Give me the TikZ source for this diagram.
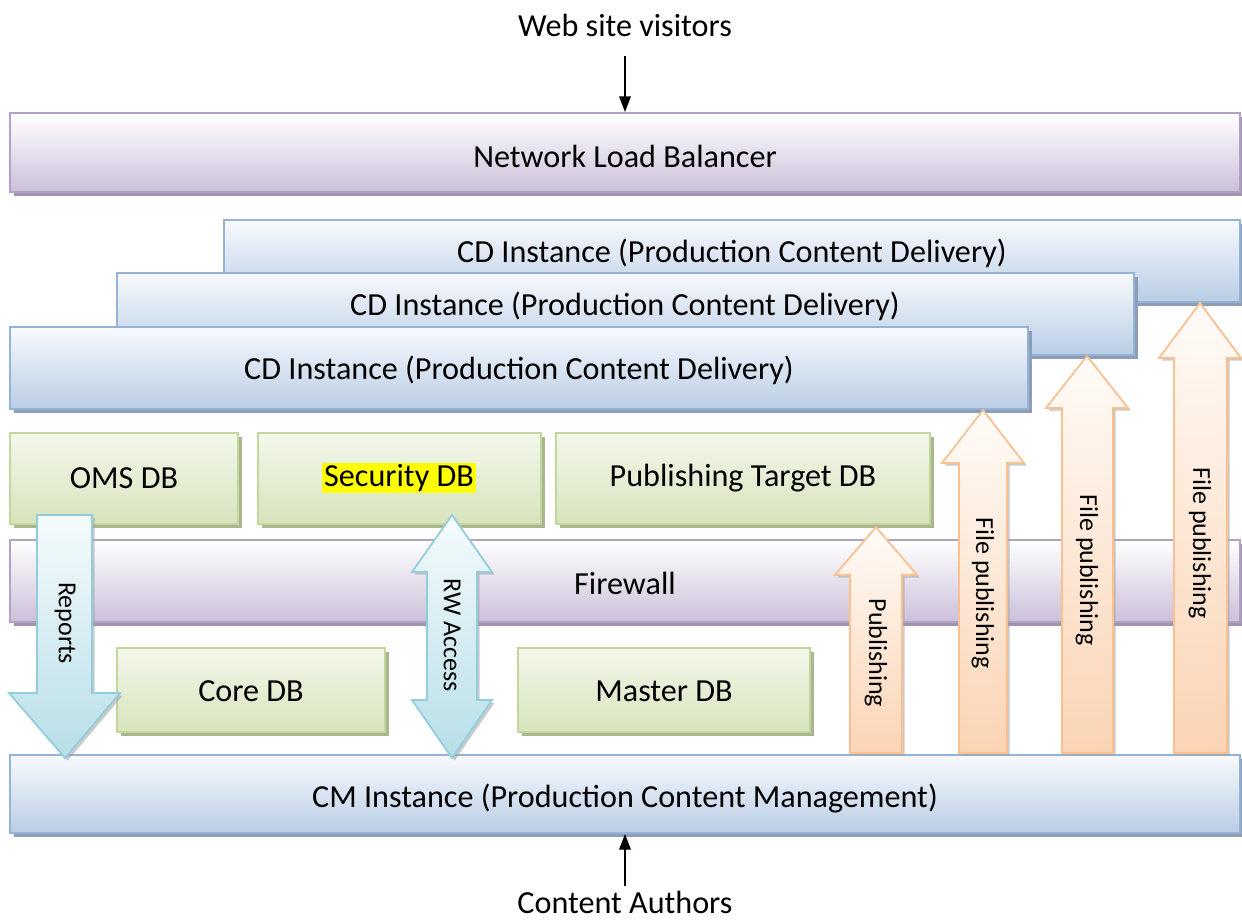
\documentclass[tikz,border=0pt]{standalone}
\usepackage{fontspec}
\setmainfont{Carlito}
\usetikzlibrary{fit,shadows,arrows.meta}
\definecolor{purpB}{HTML}{B2A1C7}
\definecolor{purpBot}{HTML}{CCC0DA}
\definecolor{purpSh}{HTML}{A193AE}
\definecolor{bluB}{HTML}{95B3D7}
\definecolor{bluTop}{HTML}{F8FAFD}
\definecolor{bluBot}{HTML}{B9CDE5}
\definecolor{bluSh}{HTML}{8C9DB5}
\definecolor{grnB}{HTML}{C3D69B}
\definecolor{grnTop}{HTML}{F3F7EA}
\definecolor{grnBot}{HTML}{D7E4BD}
\definecolor{grnSh}{HTML}{A9B68F}
\definecolor{cyB}{HTML}{92CDDC}
\definecolor{cyTop}{HTML}{F5FBFC}
\definecolor{cyBot}{HTML}{B7DEE8}
\definecolor{orB}{HTML}{FAC090}
\definecolor{orTop}{HTML}{FFFBF8}
\definecolor{orBot}{HTML}{FBD4B4}
\definecolor{hl}{HTML}{FFFF00}
\tikzset{
  base/.style={inner sep=0pt, line width=1pt, font=\fontsize{18.3}{21}\selectfont},
  purplebox/.style={base, draw=purpB, top color=white, bottom color=purpBot,
    drop shadow={shadow xshift=2pt, shadow yshift=-2pt, fill=purpSh, opacity=1}},
  bluebox/.style={base, draw=bluB, top color=bluTop, bottom color=bluBot,
    drop shadow={shadow xshift=2pt, shadow yshift=-2pt, fill=bluSh, opacity=1}},
  greenbox/.style={base, draw=grnB, top color=grnTop, bottom color=grnBot,
    drop shadow={shadow xshift=2pt, shadow yshift=-2pt, fill=grnSh, opacity=1}},
  cyanarrow/.style={draw=cyB, line width=1pt, top color=cyTop, bottom color=cyBot,
    drop shadow={shadow xshift=1.5pt, shadow yshift=-1.5pt, fill=black!35, opacity=0.6}},
  orangearrow/.style={draw=orB, line width=1pt, top color=orTop, bottom color=orBot,
    drop shadow={shadow xshift=1.5pt, shadow yshift=-1.5pt, fill=black!35, opacity=0.6}},
  label/.style={font=\fontsize{18.3}{21}\selectfont, inner sep=0pt},
  vlabel/.style={font=\fontsize{14.8}{16}\selectfont, inner sep=0pt, rotate=-90},
  thin/.style={line width=1.2pt, -{Triangle[length=9pt,width=6.5pt]}}
}
\begin{document}
\begin{tikzpicture}[x=0.02cm,y=-0.02cm]
\useasboundingbox (0,0) rectangle (1242,921);
% top text and load balancer
\node[label] (wsv) at (625,25) {Web site visitors};
\node[purplebox, fit={(10,113) (1240,192)}] (nlb) {};
\node[label] (nlbt) at (625,156) {Network Load Balancer};
% CD instances
\node[bluebox, fit={(224,220) (1240,302)}] (cd3) {};
\node[label] (cd3t) at (732,253) {CD Instance (Production Content Delivery)};
\node[bluebox, fit={(117,273) (1134,355)}] (cd2) {};
\node[label] (cd2t) at (625,306) {CD Instance (Production Content Delivery)};
\node[bluebox, fit={(10,327) (1028,409)}] (cd1) {};
\node[label] (cd1t) at (519,370) {CD Instance (Production Content Delivery)};
% DBs
\node[greenbox, fit={(10,433) (238,524)}] (oms) {};
\node[label] (omst) at (124,478) {OMS DB};
\node[greenbox, fit={(258,433) (541,524)}] (sec) {};
\node[label] (sect) at (399,478) {\setlength{\fboxsep}{1pt}\colorbox{hl}{Security DB}};
\node[greenbox, fit={(556,433) (930,524)}] (ptdb) {};
\node[label] (ptdbt) at (743,478) {Publishing Target DB};
% firewall
\node[purplebox, fit={(10,540) (1240,622)}] (fw) {};
\node[label] (fwt) at (625,583) {Firewall};
\node[greenbox, fit={(117,648) (385,732)}] (core) {};
\node[label] (coret) at (251,691) {Core DB};
\node[greenbox, fit={(518,648) (810,732)}] (master) {};
\node[label] (mastert) at (664,691) {Master DB};
% CM instance
\node[bluebox, fit={(10,755) (1240,833)}] (cm) {};
\node[label] (cmt) at (625,798) {CM Instance (Production Content Management)};
\node[label] (ca) at (625,902) {Content Authors};
% thin arrows
\coordinate (wsvs) at (625,56);
\draw[thin] (wsvs) -- (nlb.north);
\coordinate (cas) at (625,886);
\draw[thin] (cas) -- (cm.south);
% Reports arrow
\path[cyanarrow] (37,515) -- (92,515) -- (92,693) -- (120,693) -- (65,758) -- (9,693) -- (37,693) -- cycle;
\node[vlabel] (rep) at (65,623) {Reports};
% RW Access arrow
\path[cyanarrow] (452,515) -- (492,572) -- (477,572) -- (477,700) -- (492,700) -- (452,758)
  -- (412,700) -- (427,700) -- (427,572) -- (412,572) -- cycle;
\node[vlabel] (rw) at (452,635) {RW Access};
% orange arrows
\path[orangearrow] (876,527) -- (917,575) -- (902,575) -- (902,753) -- (850,753) -- (850,575) -- (835,575) -- cycle;
\node[vlabel] (pub) at (876,653) {Publishing};
\path[orangearrow] (983,410) -- (1024,463) -- (1007,463) -- (1007,753) -- (959,753) -- (959,463) -- (942,463) -- cycle;
\node[vlabel] (fp1) at (983,593) {File publishing};
\path[orangearrow] (1087,356) -- (1128,408) -- (1113,408) -- (1113,753) -- (1062,753) -- (1062,408) -- (1046,408) -- cycle;
\node[vlabel] (fp2) at (1087,570) {File publishing};
\path[orangearrow] (1200,303) -- (1241,358) -- (1227,358) -- (1227,753) -- (1174,753) -- (1174,358) -- (1159,358) -- cycle;
\node[vlabel] (fp3) at (1200,543) {File publishing};
\end{tikzpicture}
\end{document}
